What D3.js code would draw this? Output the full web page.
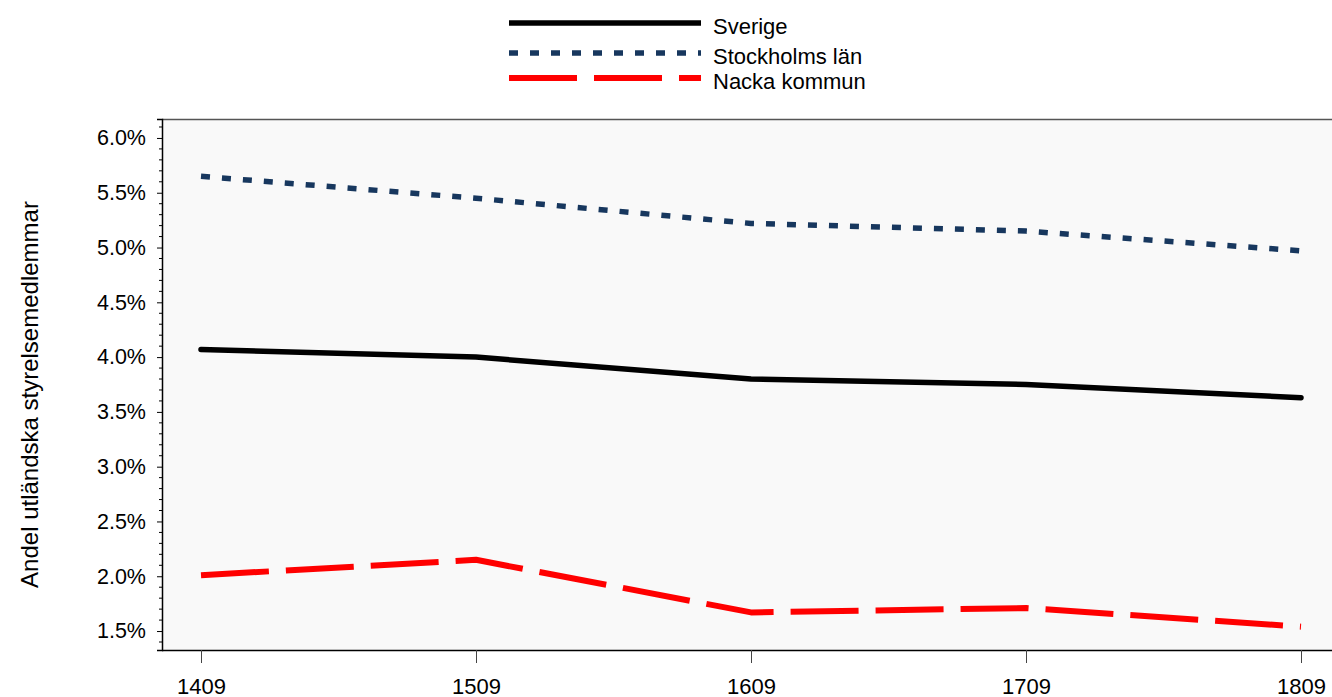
<!DOCTYPE html>
<html><head><meta charset="utf-8">
<script src="https://cdn.jsdelivr.net/npm/d3@7"></script>
<style>body{margin:0;background:#fff;}svg{display:block;font-family:"Liberation Sans",Arial,sans-serif;}</style>
</head><body>
<svg id="c" width="1332" height="697"></svg>
<script>
const categories = ["1409","1509","1609","1709","1809"];
const sverige = [4.07, 4.00, 3.80, 3.75, 3.63];
const stockholm = [5.65, 5.45, 5.22, 5.15, 4.97];
const nacka = [2.01, 2.15, 1.67, 1.71, 1.54];
const seriesNames = ["Sverige","Stockholms län","Nacka kommun"];
const yTicks = [1.5,2.0,2.5,3.0,3.5,4.0,4.5,5.0,5.5,6.0];

const svg = d3.select("#c");
const L = 162, R = 1340, T = 119, B = 650;
const x = d3.scalePoint().domain(categories).range([201, 1301]);
const y = d3.scaleLinear().domain([1.327, 6.173]).range([B, T]);

svg.append("rect").attr("x", L).attr("y", T).attr("width", R - L).attr("height", B - T).attr("fill", "#f9f9f9");
svg.append("line").attr("x1", L).attr("x2", R).attr("y1", T + 0.5).attr("y2", T + 0.5).attr("stroke", "#555").attr("stroke-width", 1.5);

// y axis
const ya = svg.append("g").attr("transform", `translate(${L},0)`)
  .call(d3.axisLeft(y).tickValues(yTicks).tickFormat(d => d.toFixed(1) + "%").tickSize(5).tickPadding(11));
ya.select(".domain").attr("stroke", "#000").attr("stroke-width", 1.5);
ya.selectAll("text").attr("font-size", 21.5).attr("fill", "#000").attr("font-family", "Liberation Sans, Arial, sans-serif");
const minor = d3.range(14, 62).map(d => d / 10).filter(d => yTicks.indexOf(d) < 0 && d >= 1.33 && d <= 6.17);
svg.append("g").selectAll("line").data(minor).join("line")
  .attr("x1", L - 3).attr("x2", L).attr("y1", d => y(d)).attr("y2", d => y(d)).attr("stroke", "#000").attr("stroke-width", 1);

// x axis
const xa = svg.append("g").attr("transform", `translate(0,${B})`)
  .call(d3.axisBottom(x).tickSize(13).tickPadding(15).tickSizeOuter(0));
xa.select(".domain").attr("d", `M${L},0.5H1332`).attr("stroke", "#000").attr("stroke-width", 1.5);
xa.selectAll(".tick line").attr("stroke", "#444");
xa.selectAll("text").attr("font-size", 22).attr("fill", "#000").attr("font-family", "Liberation Sans, Arial, sans-serif");

// y label
svg.append("text").attr("transform", `translate(38,${(T + B) / 2 + 10}) rotate(-90)`)
  .attr("text-anchor", "middle").attr("font-size", 24).text("Andel utländska styrelsemedlemmar");

const styles = [
  {data: sverige, color: "#000", width: 5.5, dash: null},
  {data: stockholm, color: "#17375e", width: 5.5, dash: "9,12"},
  {data: nacka, color: "#ff0000", width: 6, dash: "68,17"}
];
const line = d3.line().x((d, i) => x(categories[i])).y(d => y(d));
styles.forEach(s => {
  svg.append("path").attr("d", line(s.data)).attr("fill", "none").attr("stroke", s.color)
    .attr("stroke-width", s.width).attr("stroke-dasharray", s.dash).attr("stroke-linejoin", "round")
    .attr("stroke-linecap", s.dash ? "butt" : "round");
});

// legend
const ly = [23, 53, 78];
styles.forEach((s, i) => {
  svg.append("line").attr("x1", 509).attr("x2", 701).attr("y1", ly[i]).attr("y2", ly[i])
    .attr("stroke", s.color).attr("stroke-width", s.width).attr("stroke-dasharray", s.dash);
  svg.append("text").attr("x", 713).attr("y", ly[i] + 11).attr("font-size", 22).text(seriesNames[i]);
});
</script>
</body></html>
